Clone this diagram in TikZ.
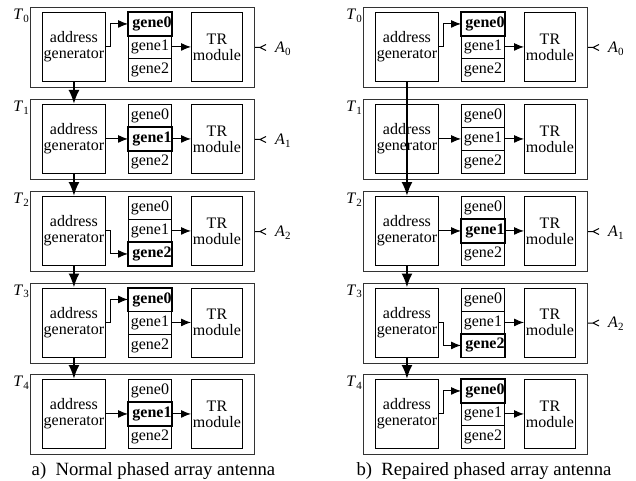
\documentclass[tikz,border=0pt]{standalone}
\usepackage{fontspec}
\setmainfont{Liberation Serif}
\usetikzlibrary{arrows.meta,calc}

\tikzset{
  txt/.style={font=\fontsize{16}{16}\selectfont},
  frame/.style={draw=black!80, line width=1pt, minimum width=224pt, minimum height=80pt,
    anchor=north west, inner sep=0pt},
  blockbox/.style={draw, line width=0.9pt, minimum width=#1, minimum height=69pt,
    anchor=north west, inner sep=0pt, align=center, txt},
  genebox/.style={draw, line width=0.9pt, minimum width=43pt, minimum height=23pt,
    anchor=north west, inner sep=0pt, txt},
  harrow/.style={line width=1pt, -{Latex[length=10pt,width=8pt]}},
  varrow/.style={line width=2.2pt, -{Latex[length=14pt,width=11pt]}},
  feed/.style={line width=1pt},
  tag/.style={inner sep=0pt, txt},
  caption/.style={anchor=base, inner sep=0pt, font=\fontsize{18.7}{18.7}\selectfont},
}

% italic letter with upright subscript
\newcommand\lbl[2]{\textit{#1}\raisebox{-0.35ex}{\fontsize{11}{11}\selectfont #2}}

% one time step: prefix, x offset, top y, T index, selected gene (3 = none)
\newcommand\stage[5]{%
  \def\gfont##1{\ifnum##1=#5 \bfseries\fi}%
  \node[frame] (#1box) at (#2+30,#3) {};
  \node[tag, anchor=north east] (#1T) at (#2+29,#3+2) {\lbl{T}{#4}};
  \node[blockbox=63pt] (#1ag) at (#2+42,#3+5) {address\\generator};
  \node[genebox] (#1g0) at (#2+128,#3+5) {\gfont0 gene0};
  \node[genebox] (#1g1) at (#2+128,#3+28) {\gfont1 gene1};
  \node[genebox] (#1g2) at (#2+128,#3+51) {\gfont2 gene2};
  \ifnum#5<3
    \draw[line width=1.8pt] (#1g#5.north west) rectangle (#1g#5.south east);
  \fi
  \node[blockbox=51pt] (#1tr) at (#2+191,#3+5) {TR\\module};
  \draw[harrow] (#1g1.east) -- (#1tr.west |- #1g1.east);
}

% address generator straight to gene1
\newcommand\straight[1]{\draw[harrow] (#1ag.east) -- (#1g1.west);}
% address generator to gene0 or gene2 via an elbow
\newcommand\elbow[2]{\draw[harrow] (#1ag.east) -- ++(5,0) |- (#1g#2.west);}
% antenna element fed by this step
\newcommand\antenna[2]{%
  \draw[feed] (#1box.east) -- ++(5,0) coordinate (#1ant) ++(6,-3) -- (#1ant) -- ++(6,3);
  \node[tag, anchor=west] (#1A) at ($(#1box.east)+(20,1)$) {\lbl{A}{#2}};
}

\begin{document}
\begin{tikzpicture}[x=1pt,y=-1pt]
\useasboundingbox (0,0) rectangle (636,481);

% ---- a) normal array ----
\stage{L0}{0}{7}{0}{0}       \elbow{L0}{0}   \antenna{L0}{0}
\stage{L1}{0}{99}{1}{1}      \straight{L1}   \antenna{L1}{1}
\stage{L2}{0}{191}{2}{2}     \elbow{L2}{2}   \antenna{L2}{2}
\stage{L3}{0}{282.5}{3}{0}   \elbow{L3}{0}
\stage{L4}{0}{374}{4}{1}     \straight{L4}
\draw[varrow] (L0ag.south) -- (L1ag.north);
\draw[varrow] (L1ag.south) -- (L2ag.north);
\draw[varrow] (L2ag.south) -- (L3ag.north);
\draw[varrow] (L3ag.south) -- (L4ag.north);

% ---- b) repaired array ----
\stage{R0}{333}{7}{0}{0}     \elbow{R0}{0}   \antenna{R0}{0}
\stage{R1}{333}{99}{1}{3}    \straight{R1}
\stage{R2}{333}{191}{2}{1}   \straight{R2}   \antenna{R2}{1}
\stage{R3}{333}{282.5}{3}{2} \elbow{R3}{2}   \antenna{R3}{2}
\stage{R4}{333}{374}{4}{0}   \elbow{R4}{0}
\draw[varrow] (R0ag.south) -- (R2ag.north);
\draw[varrow] (R2ag.south) -- (R3ag.north);
\draw[varrow] (R3ag.south) -- (R4ag.north);

% captions
\node[caption] (capa) at (153.5,475.5) {a)~~Normal phased array antenna};
\node[caption] (capb) at (484,475.5) {b)~~Repaired phased array antenna};
\end{tikzpicture}
\end{document}
